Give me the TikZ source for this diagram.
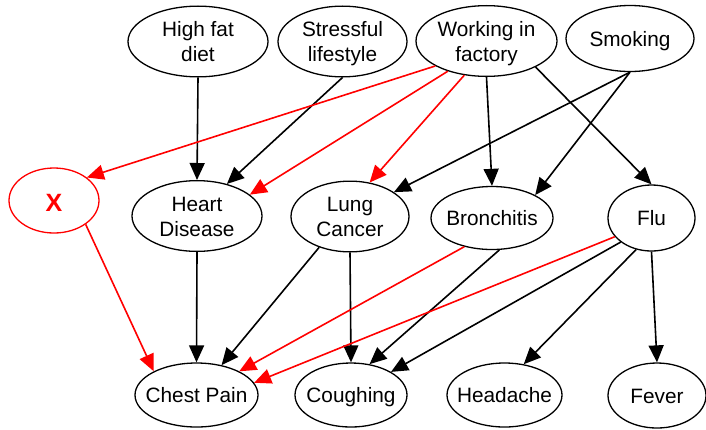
\documentclass[tikz,border=0pt]{standalone}
\usepackage{fontspec}
\setmainfont{Liberation Sans}
\usetikzlibrary{shapes.geometric,arrows.meta}
\newcommand\nlbl[2][-2.5pt]{\makebox[0pt]{\raisebox{#1}[\height][\depth]{\begin{tabular}{@{}c@{}}#2\end{tabular}}}}
\definecolor{pred}{RGB}{255,0,0}
\begin{document}
\begin{tikzpicture}[x=1pt,y=-1pt,
  var/.style={ellipse,draw=black,line width=1.3pt,inner sep=0pt,
    font=\fontsize{20.8}{25}\selectfont},
  edge/.style={line width=1.6pt,draw=black,-{Triangle[length=17pt,width=15pt]}},
  redge/.style={line width=1.6pt,draw=pred,-{Triangle[length=17pt,width=15pt]}}]
\useasboundingbox (0,0) rectangle (706,429);
\newcommand\V[6]{\node[var,minimum width=#4*2pt,minimum height=#5*2pt] (#1) at (#2,#3) {\nlbl{#6}};}
\V{hfd}{198}{41.5}{70}{31.5}{High fat\\diet}
\V{str}{342.5}{41.5}{64.5}{33.5}{Stressful\\lifestyle}
\V{wif}{486.5}{41}{70.5}{35}{Working in\\factory}
\V{smk}{630}{38.5}{64}{33}{Smoking}
\node[var,draw=pred,text=pred,minimum width=90pt,minimum height=65pt,font=\fontsize{25}{30}\selectfont\bfseries] (X) at (54,200.5) {\nlbl[-5pt]{X}};
\V{hd}{197}{216}{65}{34}{Heart\\Disease}
\V{lc}{350}{216.5}{59}{33.5}{Lung\\Cancer}
\V{br}{492}{218}{61}{31.5}{Bronchitis}
\V{flu}{651.5}{218}{43.5}{33}{Flu}
\V{cp}{196.5}{395}{61.5}{32}{Chest Pain}
\V{co}{351}{395}{56}{32}{Coughing}
\V{ha}{504.5}{395}{57.5}{32}{Headache}
\V{fe}{657}{395.5}{49}{32.5}{Fever}
% black edges
\draw[edge] (hfd.south) -- (hd.north);
\draw[edge] (str.south) -- (hd.47);
\draw[edge] (wif.south) -- (br.north);
\draw[edge] (wif.332) -- (flu.north);
\draw[edge] (smk.south) -- (lc.29);
\draw[edge] (smk.south) -- (br.28);
\draw[edge] (hd.south) -- (cp.north);
\draw[edge] (lc.225) -- (cp.50);
\draw[edge] (lc.south) -- (co.north);
\draw[edge] (br.283) -- (co.59);
\draw[edge] (flu.218) -- (co.30);
\draw[edge] (flu.244) -- (ha.58);
\draw[edge] (flu.south) -- (fe.north);
% red edges
\draw[redge] (wif.206) -- (X.35);
\draw[redge] (wif.218) -- (hd.22);
\draw[redge] (wif.237) -- (lc.60);
\draw[redge] (X.-37) -- (cp.151);
\draw[redge] (br.226) -- (cp.29);
\draw[redge] (flu.207) -- (cp.12);
\end{tikzpicture}
\end{document}
